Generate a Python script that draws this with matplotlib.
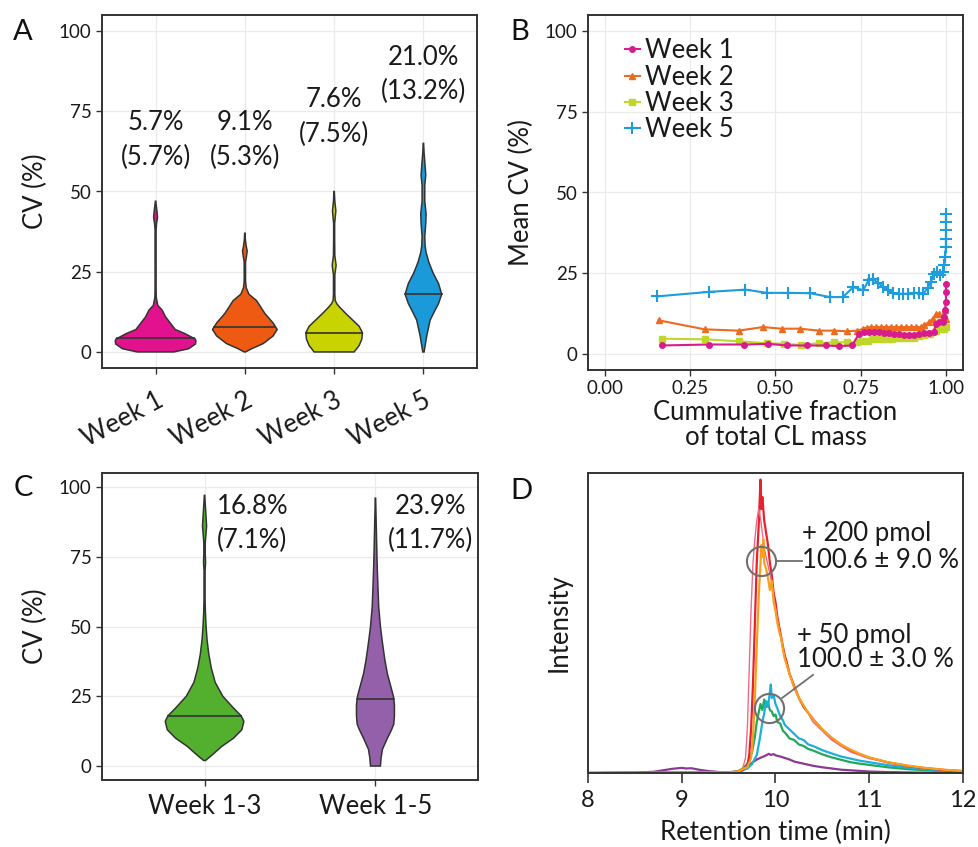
import numpy as np
import matplotlib
matplotlib.use("Agg")
import matplotlib.pyplot as plt

plt.rcParams['font.family'] = ['Lato', 'DejaVu Sans']

# ---------------- Panel A data (violin profiles) ----------------
weeks_a = ["Week 1", "Week 2", "Week 3", "Week 5"]
colors_a = ["#E2128F", "#EE5A12", "#C8D300", "#1A9AD9"]
w1_y = [0, 1, 2.5, 3.5, 4, 5.7, 7, 9.9, 11, 13, 14.5, 17, 20, 38, 40, 42, 44, 47]
w1_hw = [0.205, 0.37, 0.448, 0.451, 0.445, 0.33, 0.22, 0.14, 0.11, 0.075, 0.025, 0.0075, 0.0056, 0.0056, 0.011, 0.022, 0.015, 0.002]
w2_y = [0, 1, 2.6, 5, 7, 9, 12, 16, 18, 20, 22, 28, 30, 31.5, 33, 35, 37]
w2_hw = [0.007, 0.075, 0.205, 0.317, 0.362, 0.317, 0.224, 0.131, 0.045, 0.015, 0.0075, 0.0075, 0.019, 0.026, 0.015, 0.0056, 0.002]
w3_y = [0, 2, 4, 6, 8, 10, 12, 14, 15, 16, 18, 24, 27, 30, 35, 40, 44, 47, 50]
w3_hw = [0.224, 0.28, 0.31, 0.317, 0.28, 0.205, 0.13, 0.06, 0.03, 0.012, 0.0075, 0.0075, 0.022, 0.0075, 0.0056, 0.0056, 0.019, 0.0075, 0.002]
w5_y = [0, 5, 9.9, 13, 15, 18, 21.4, 24.5, 28, 31, 33, 36, 40, 43, 47, 52, 55, 58, 62, 65]
w5_hw = [0.0075, 0.037, 0.075, 0.13, 0.168, 0.205, 0.168, 0.11, 0.06, 0.03, 0.019, 0.015, 0.026, 0.03, 0.015, 0.015, 0.026, 0.019, 0.0075, 0.002]
medians_a = [4.2, 7.9, 6.0, 18.2]
labels_a_top = ["5.7%", "9.1%", "7.6%", "21.0%"]
labels_a_bot = ["(5.7%)", "(5.3%)", "(7.5%)", "(13.2%)"]
label_a_y_top = [71.5, 71.5, 78.7, 91.8]
label_a_y_bot = [60.5, 60.5, 67.8, 81.3]

# ---------------- Panel B data ----------------
b_w1_x = [0.167, 0.304, 0.409, 0.478, 0.534, 0.591, 0.647, 0.686, 0.725, 0.745, 0.76, 0.775, 0.789, 0.804, 0.819, 0.833, 0.848, 0.863, 0.877, 0.892, 0.907, 0.922, 0.936, 0.951, 0.964, 0.971, 0.98, 0.99, 0.995, 0.997, 1.0, 1.0, 1.0]
b_w1_y = [2.6, 2.9, 2.9, 3.1, 2.6, 2.6, 2.6, 2.4, 2.6, 6.2, 6.7, 6.7, 6.9, 6.7, 6.4, 6.4, 6.2, 6.2, 5.9, 5.9, 5.9, 6.2, 6.4, 6.4, 6.7, 9.3, 9.8, 10.0, 11.4, 13.5, 16.0, 19.2, 21.7]
b_w2_x = [0.157, 0.292, 0.392, 0.463, 0.518, 0.572, 0.627, 0.672, 0.709, 0.74, 0.758, 0.768, 0.779, 0.794, 0.809, 0.824, 0.839, 0.853, 0.868, 0.883, 0.897, 0.912, 0.926, 0.936, 0.951, 0.961, 0.971, 0.98, 0.99, 0.997, 1.0]
b_w2_y = [10.4, 7.6, 7.2, 8.3, 7.8, 7.8, 7.2, 7.2, 7.0, 7.2, 7.8, 8.1, 8.3, 8.3, 8.3, 8.3, 8.3, 8.3, 8.3, 8.3, 8.3, 8.3, 8.3, 9.0, 9.8, 10.9, 12.4, 12.4, 11.4, 13.5, 10.9]
b_w3_x = [0.167, 0.292, 0.392, 0.475, 0.525, 0.574, 0.627, 0.672, 0.709, 0.74, 0.755, 0.77, 0.784, 0.799, 0.814, 0.829, 0.843, 0.858, 0.873, 0.888, 0.907, 0.922, 0.936, 0.954, 0.971, 0.985, 0.995, 1.0]
b_w3_y = [4.7, 4.5, 3.9, 3.3, 3.1, 2.8, 3.3, 3.6, 3.6, 3.6, 3.9, 4.1, 4.5, 4.7, 4.7, 4.7, 4.7, 4.8, 4.8, 4.8, 4.9, 5.5, 5.7, 6.2, 7.2, 7.6, 7.8, 8.3]
b_w5_x = [0.152, 0.304, 0.412, 0.475, 0.537, 0.601, 0.66, 0.698, 0.728, 0.757, 0.773, 0.787, 0.802, 0.816, 0.831, 0.846, 0.861, 0.875, 0.89, 0.905, 0.92, 0.934, 0.946, 0.956, 0.964, 0.975, 0.983, 0.99, 0.995, 0.997, 1.0, 1.0, 1.0, 1.0, 1.0]
b_w5_y = [17.8, 19.2, 19.9, 18.9, 18.9, 18.8, 17.6, 17.6, 20.7, 19.7, 22.8, 23.1, 21.9, 20.7, 19.7, 18.9, 18.6, 18.6, 18.6, 18.9, 18.9, 18.6, 20.4, 22.3, 24.8, 25.4, 24.3, 25.4, 27.4, 30.0, 33.0, 35.7, 38.3, 40.9, 43.2]
b_colors = ["#D81B8E", "#EE6A1E", "#C2D62A", "#1E9CDB"]

# ---------------- Panel C data ----------------
groups_c = ["Week 1-3", "Week 1-5"]
colors_c = ["#52B02E", "#9560AA"]
c13_y = [2, 4, 7, 10, 13, 16, 18, 21, 25, 30, 35, 40, 45, 50, 55, 60, 70, 73, 76, 80, 86, 90, 94, 97]
c13_hw = [0.006, 0.045, 0.1, 0.17, 0.218, 0.23, 0.214, 0.166, 0.107, 0.062, 0.04, 0.025, 0.015, 0.009, 0.005, 0.003, 0.003, 0.006, 0.004, 0.004, 0.012, 0.008, 0.004, 0.001]
c15_y = [0, 3, 6, 10, 13, 15, 18, 22, 25, 28, 33, 38, 45, 50, 57, 65, 72, 80, 88, 96]
c15_hw = [0.029, 0.033, 0.041, 0.07, 0.094, 0.107, 0.111, 0.111, 0.105, 0.092, 0.07, 0.055, 0.039, 0.029, 0.019, 0.014, 0.01, 0.007, 0.004, 0.001]
medians_c = [18.1, 23.9]
labels_c_top = ["16.8%", "23.9%"]
labels_c_bot = ["(7.1%)", "(11.7%)"]

# ---------------- Panel D data (chromatogram traces) ----------------
pur_t = [8.0, 8.5, 8.7, 8.8, 8.9, 9.0, 9.05, 9.1, 9.2, 9.3, 9.4, 9.5, 9.6, 9.65, 9.7, 9.75, 9.8, 9.85, 9.88, 9.9, 9.93, 9.95, 9.98, 10.0, 10.05, 10.1, 10.15, 10.2, 10.3, 10.4, 10.5, 10.6, 10.7, 10.8, 11.0, 11.2, 11.5, 12.0]
pur_i = [0, 0.1, 0.4, 0.9, 1.4, 1.7, 1.5, 1.6, 1.0, 0.6, 0.3, 0.2, 0.4, 0.9, 2.0, 3.4, 4.5, 5.2, 5.6, 5.9, 6.4, 6.0, 6.3, 5.9, 5.5, 5.0, 4.5, 3.8, 3.1, 2.4, 1.9, 1.5, 1.1, 0.9, 0.5, 0.3, 0.15, 0.05]
grn_t = [8.0, 9.5, 9.6, 9.65, 9.7, 9.75, 9.78, 9.8, 9.82, 9.84, 9.86, 9.88, 9.9, 9.92, 9.94, 9.96, 9.98, 10.0, 10.02, 10.05, 10.08, 10.1, 10.15, 10.2, 10.25, 10.3, 10.35, 10.4, 10.5, 10.6, 10.7, 10.8, 10.9, 11.0, 11.2, 11.4, 11.6, 11.8, 12.0]
grn_i = [0, 0.2, 0.6, 1.5, 3.0, 7.0, 12, 17, 20, 23, 21, 24.5, 22, 23.5, 21, 20.5, 19, 19.5, 17, 16.5, 14, 13.5, 11.5, 11, 9.5, 9, 8, 7.5, 6.2, 5.2, 4.4, 3.6, 3.1, 2.7, 1.9, 1.3, 0.9, 0.6, 0.4]
cyn_t = [8.0, 9.5, 9.6, 9.7, 9.75, 9.8, 9.83, 9.86, 9.88, 9.9, 9.92, 9.94, 9.95, 9.96, 9.98, 10.0, 10.02, 10.05, 10.08, 10.1, 10.15, 10.2, 10.25, 10.3, 10.35, 10.4, 10.5, 10.6, 10.7, 10.8, 10.9, 11.0, 11.2, 11.4, 11.6, 11.8, 12.0]
cyn_i = [0, 0.1, 0.4, 1.5, 3, 6, 11, 17, 20, 24, 22, 27, 29.5, 25, 26, 23, 21.5, 19, 17.5, 16, 14.5, 13, 11.5, 11, 9.5, 9, 7.6, 6.5, 5.5, 4.8, 4.1, 3.6, 2.6, 1.8, 1.2, 0.8, 0.5]
red_t = [8.0, 9.5, 9.6, 9.65, 9.7, 9.72, 9.74, 9.76, 9.78, 9.8, 9.82, 9.83, 9.84, 9.85, 9.86, 9.88, 9.9, 9.92, 9.94, 9.96, 9.98, 10.0, 10.02, 10.05, 10.08, 10.1, 10.12, 10.15, 10.2, 10.25, 10.3, 10.35, 10.4, 10.5, 10.6, 10.7, 10.8, 10.9, 11.0, 11.2, 11.4, 11.6, 11.8, 12.0]
red_i = [0, 0.2, 0.5, 1.0, 2.5, 6, 15, 30, 50, 70, 82, 90, 97.8, 88, 92, 84, 80, 76, 70, 66, 60, 57, 52, 47, 42, 39, 37, 33, 29, 25, 22, 20, 18, 14.5, 11.5, 9.2, 7.5, 6.2, 5.1, 3.5, 2.4, 1.6, 1.0, 0.6]
pnk_t = [8.0, 9.5, 9.6, 9.65, 9.68, 9.7, 9.72, 9.74, 9.76, 9.78, 9.8, 9.82, 9.84, 9.86, 9.88, 9.9, 9.95, 10.0, 10.1, 10.2, 10.4, 10.6, 10.8, 11.0, 11.5, 12.0]
pnk_i = [0, 0.2, 0.5, 1.5, 5, 15, 35, 55, 70, 78, 84, 88, 85, 80, 75, 72, 65, 55, 38, 28, 17, 11, 7, 4.8, 2.0, 0.5]
org_t = [8.0, 9.5, 9.6, 9.7, 9.74, 9.76, 9.78, 9.8, 9.82, 9.84, 9.85, 9.86, 9.87, 9.88, 9.9, 9.92, 9.94, 9.96, 9.98, 10.0, 10.02, 10.04, 10.06, 10.08, 10.1, 10.12, 10.15, 10.2, 10.25, 10.3, 10.35, 10.4, 10.5, 10.6, 10.7, 10.8, 10.9, 11.0, 11.2, 11.4, 11.6, 11.8, 12.0]
org_i = [0, 0.2, 0.5, 2, 5, 12, 25, 42, 58, 70, 76, 72, 78, 70, 68, 65, 61, 64, 57, 54, 50, 47, 45, 41, 38, 36, 33, 28.5, 25, 22.5, 20, 18, 14.5, 11.8, 9.5, 7.8, 6.4, 5.2, 3.6, 2.5, 1.7, 1.1, 0.7]
d_colors = {"purple": "#8B3A94", "green": "#21A85A", "cyan": "#1EAEDB",
            "red": "#E8212B", "pink": "#F06A86", "orange": "#F8A01C"}

# ---------------- Figure ----------------
W, H = 979, 847
fig = plt.figure(figsize=(W / 100, H / 100), dpi=100)

def fax(l, t, r, b):
    return fig.add_axes([l / W, 1 - b / H, (r - l) / W, (b - t) / H])

axA = fax(102, 15, 477, 368)
axB = fax(588, 15, 963, 370)
axC = fax(102, 473, 478, 780)
axD = fax(588, 473, 963, 773)

TXT = "#1a1a1a"
EDGE = "#333333"
GRID = "#EBEBEB"
BIG = 18.5
TICK = 13.5

def style_gg(ax):
    for s in ax.spines.values():
        s.set_color(EDGE)
        s.set_linewidth(1.4)
    ax.grid(True, color=GRID, lw=0.9)
    ax.set_axisbelow(True)
    ax.tick_params(colors=EDGE, length=4, width=1, labelcolor=TXT, labelsize=TICK)
    ax.set_ylim(-5, 105)
    ax.set_yticks([0, 25, 50, 75, 100])

def violin(ax, pos, ys, hws, color, median):
    ys = np.asarray(ys, float)
    hws = np.asarray(hws, float)
    xs = np.concatenate([pos - hws, (pos + hws)[::-1]])
    yy = np.concatenate([ys, ys[::-1]])
    ax.fill(xs, yy, facecolor=color, edgecolor=EDGE, lw=1.1, zorder=2)
    hm = np.interp(median, ys, hws)
    ax.plot([pos - hm, pos + hm], [median, median], color=EDGE, lw=1.2, zorder=3)

# Panel A
style_gg(axA)
profiles_a = [(w1_y, w1_hw), (w2_y, w2_hw), (w3_y, w3_hw), (w5_y, w5_hw)]
for i, ((ys, hw), c, m) in enumerate(zip(profiles_a, colors_a, medians_a)):
    violin(axA, i + 1, ys, hw, c, m)
    axA.text(i + 1, label_a_y_top[i], labels_a_top[i], ha="center", va="center", fontsize=BIG, color=TXT)
    axA.text(i + 1, label_a_y_bot[i], labels_a_bot[i], ha="center", va="center", fontsize=BIG, color=TXT)
axA.set_xlim(0.4, 4.6)
axA.set_xticks(range(1, 5))
axA.set_xticklabels(weeks_a, rotation=28, ha="right", rotation_mode="anchor", fontsize=BIG)
axA.tick_params(axis="x", pad=10)
axA.set_ylabel("CV (%)", fontsize=BIG, color=TXT, labelpad=8)

# Panel B
style_gg(axB)
axB.plot(b_w1_x, b_w1_y, color=b_colors[0], marker="o", ms=4, lw=1.5, label="Week 1", zorder=4)
axB.plot(b_w2_x, b_w2_y, color=b_colors[1], marker="^", ms=5, lw=1.5, label="Week 2", zorder=3)
axB.plot(b_w3_x, b_w3_y, color=b_colors[2], marker="s", ms=4.5, lw=1.5, label="Week 3", zorder=3)
axB.plot(b_w5_x, b_w5_y, color=b_colors[3], marker="+", ms=9, mew=1.5, lw=1.5, label="Week 5", zorder=3)
axB.set_xlim(-0.05, 1.05)
axB.set_xticks([0, 0.25, 0.5, 0.75, 1.0])
axB.set_xticklabels(["0.00", "0.25", "0.50", "0.75", "1.00"])
axB.set_ylabel("Mean CV (%)", fontsize=BIG, color=TXT, labelpad=8)
axB.set_xlabel("Cummulative fraction\nof total CL mass", fontsize=BIG, color=TXT, linespacing=1.0, labelpad=2)
leg = axB.legend(loc="upper left", bbox_to_anchor=(0.05, 0.985), frameon=False, fontsize=BIG,
                 handlelength=0.6, handletextpad=0.2, labelspacing=0.05, borderaxespad=0.3)
for t in leg.get_texts():
    t.set_color(TXT)

# Panel C
style_gg(axC)
profiles_c = [(c13_y, c13_hw), (c15_y, c15_hw)]
for i, ((ys, hw), c, m) in enumerate(zip(profiles_c, colors_c, medians_c)):
    violin(axC, i + 1, ys, hw, c, m)
axC.text(1.28, 93, labels_c_top[0], ha="center", va="center", fontsize=BIG, color=TXT)
axC.text(1.28, 81, labels_c_bot[0], ha="center", va="center", fontsize=BIG, color=TXT)
axC.text(2.32, 93, labels_c_top[1], ha="center", va="center", fontsize=BIG, color=TXT)
axC.text(2.32, 81, labels_c_bot[1], ha="center", va="center", fontsize=BIG, color=TXT)
axC.set_xlim(0.4, 2.6)
axC.set_xticks([1, 2])
axC.set_xticklabels(groups_c, fontsize=BIG)
axC.tick_params(axis="x", pad=6)
axC.set_ylabel("CV (%)", fontsize=BIG, color=TXT, labelpad=8)

# Panel D
for s in axD.spines.values():
    s.set_color(EDGE)
    s.set_linewidth(1.4)
axD.plot(pur_t, pur_i, color=d_colors["purple"], lw=1.6)
axD.plot(grn_t, grn_i, color=d_colors["green"], lw=1.6)
axD.plot(cyn_t, cyn_i, color=d_colors["cyan"], lw=1.6)
axD.plot(red_t, red_i, color=d_colors["red"], lw=1.6)
axD.plot(pnk_t, pnk_i, color=d_colors["pink"], lw=1.0)
axD.plot(org_t, org_i, color=d_colors["orange"], lw=1.6)
axD.set_xlim(8, 12)
axD.set_ylim(0, 100)
axD.set_xticks([8, 9, 10, 11, 12])
axD.set_yticks([])
axD.tick_params(axis="x", colors=EDGE, length=7, width=1.2, labelcolor=TXT, labelsize=17, pad=5)
axD.set_xlabel("Retention time (min)", fontsize=BIG, color=TXT, labelpad=7)
axD.set_ylabel("Intensity", fontsize=BIG, color=TXT, labelpad=12)
axD.plot([9.85], [70.6], "o", ms=21, mfc="none", mec="#707070", mew=1.5, zorder=5)
axD.plot([9.93], [21.6], "o", ms=21, mfc="none", mec="#707070", mew=1.5, zorder=5)
axD.plot([10.02, 10.28], [70.7, 70.7], color="#707070", lw=1.3)
axD.plot([10.07, 10.4], [25, 32.7], color="#707070", lw=1.3)
axD.text(10.28, 79.7, "+ 200 pmol", ha="left", va="center", fontsize=BIG, color=TXT)
axD.text(10.28, 70.7, "100.6 ± 9.0 %", ha="left", va="center", fontsize=BIG, color=TXT)
axD.text(10.23, 46.0, "+ 50 pmol", ha="left", va="center", fontsize=BIG, color=TXT)
axD.text(10.23, 37.7, "100.0 ± 3.0 %", ha="left", va="center", fontsize=BIG, color=TXT)

# Panel letters
for letter, x, y in [("A", 23, 32), ("B", 520, 32), ("C", 23, 488), ("D", 521, 491)]:
    fig.text(x / W, 1 - y / H, letter, ha="center", va="center", fontsize=21, color="#111111")

fig.savefig("out.png", dpi=100)
